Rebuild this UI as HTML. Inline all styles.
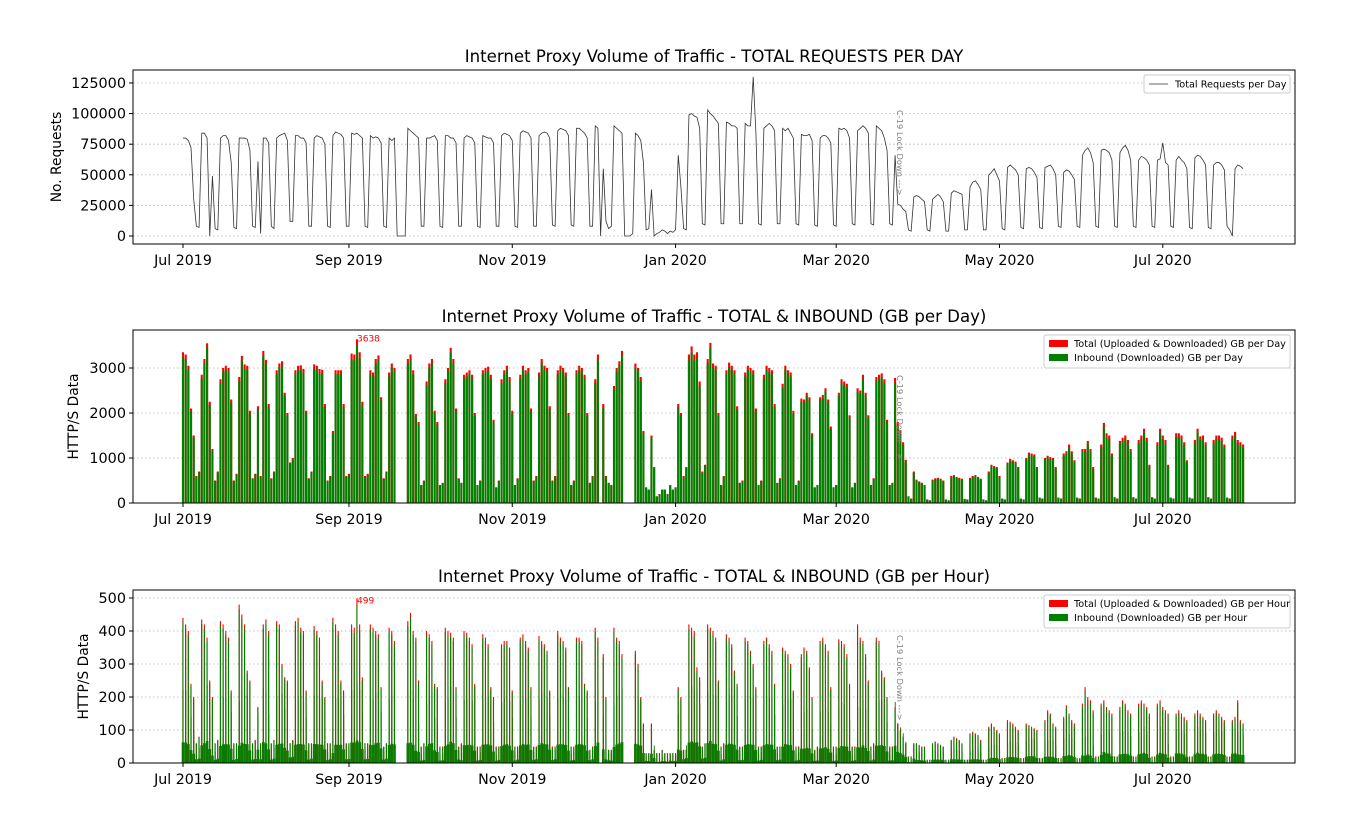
<!DOCTYPE html>
<html><head><meta charset="utf-8">
<style>
html,body{margin:0;padding:0;background:#fff;}
svg{display:block;font-family:"DejaVu Sans","Liberation Sans",sans-serif;}
</style></head>
<body>
<svg id="chart" width="1345" height="837" viewBox="0 0 1345 837" xmlns="http://www.w3.org/2000/svg"></svg>
<script>
// ---------- DATA (daily, starting Mon 1 Jul 2019) ----------
const xTickLabels = ["Jul 2019","Sep 2019","Nov 2019","Jan 2020","Mar 2020","May 2020","Jul 2020"];
const xTickDays = [0,62,123,184,244,305,366];
const reqTicks = [0,25000,50000,75000,100000,125000];
const gbTicks = [0,1000,2000,3000];
const hourTicks = [0,100,200,300,400,500];
// Total requests per day (thousands)
const requestsK = [
80,80,78,72,30,8,7,
84,84,80,0,49,6,5,
80,82,82,78,60,7,6,
80,80,80,79,70,8,7,
61,2,80,80,76,8,6,
80,82,83,84,78,12,12,
82,82,80,80,76,8,8,
80,82,81,80,75,8,7,
82,85,84,83,80,8,8,
84,83,84,82,80,8,7,
82,80,81,80,76,8,7,
80,78,80,0,0,0,0,
88,86,84,82,80,8,8,
80,80,81,82,78,8,7,
82,82,80,80,76,8,8,
80,82,81,80,76,8,7,
82,81,80,80,76,8,8,
82,84,83,82,78,8,7,
84,86,85,84,80,8,8,
82,84,85,84,80,9,8,
86,88,87,86,82,9,8,
88,88,86,84,80,8,8,
90,88,0,55,12,6,8,
90,88,86,84,0,0,0,
2,84,82,78,60,5,6,
38,0,2,3,5,4,2,
4,3,5,66,40,6,5,
99,100,98,97,88,10,9,
103,100,98,95,92,10,10,
93,92,90,90,88,10,10,
92,90,90,130,85,10,9,
88,90,92,90,86,10,10,
88,86,88,84,80,10,9,
83,82,82,83,78,9,8,
80,82,82,80,76,9,8,
88,87,88,86,80,10,9,
86,88,90,88,84,10,9,
90,88,86,80,70,10,9,
66,26,25,22,20,5,4,
32,33,32,30,28,5,4,
30,32,34,32,28,4,4,
35,37,36,35,34,5,5,
40,44,45,42,38,5,5,
50,52,55,50,45,6,5,
56,58,56,54,50,7,6,
55,56,55,52,48,7,6,
56,57,58,55,50,8,7,
52,54,53,50,46,8,7,
66,70,72,68,60,8,7,
70,71,70,68,62,8,7,
68,72,74,70,62,8,7,
62,65,64,62,58,8,7,
62,63,76,60,58,8,7,
62,65,62,60,55,7,6,
64,66,65,62,58,7,6,
58,60,60,58,54,8,5,
0,55,58,57,55];
// Total GB per day
const totalGB = [
3350,3300,3050,2100,1500,600,700,
2850,3200,3550,2250,1200,500,700,
2750,3000,3050,3000,2300,500,650,
2800,3270,3080,3050,2050,550,650,
2150,600,3380,3180,2200,550,700,
2950,3100,3150,2450,2000,900,1000,
2950,3050,3060,2980,2050,550,700,
3080,3050,2980,2960,2200,500,600,
1600,2950,2950,2950,2200,600,650,
3320,3300,3638,3350,2250,600,650,
2950,2900,3200,3280,2350,550,700,
2900,3100,3000,0,0,0,0,
3200,3300,2950,1980,1800,400,500,
2700,3100,3200,2050,1800,400,450,
2750,3000,3450,3200,2100,550,450,
2850,2900,2950,2850,2000,400,500,
2950,3000,3030,2850,1850,350,500,
2750,2950,3050,2800,2050,400,550,
2850,3050,2950,3000,2100,500,600,
2900,3200,3050,3000,2150,500,600,
2950,3050,3000,2900,2000,400,500,
2950,3050,3000,2850,2000,450,600,
2750,3300,0,2200,600,450,400,
2600,3000,3150,3380,0,0,0,
0,3100,3000,2800,1600,350,300,
1500,800,150,200,300,300,200,
400,300,350,2200,2000,600,800,
3300,3480,3300,3350,2700,700,850,
3200,3560,3100,3050,2000,400,600,
2950,3120,3050,2950,2150,450,500,
2900,3050,3000,2950,2100,400,500,
2850,3050,3000,2950,2200,450,550,
2650,3050,2950,2900,2050,400,500,
2320,2300,2450,2350,1550,350,400,
2350,2400,2550,2300,1700,350,400,
2450,2750,2700,2650,1950,350,450,
2550,2500,2850,2450,1950,400,550,
2800,2850,2880,2750,1850,400,450,
2780,1800,1620,1350,960,150,100,
700,520,480,450,400,80,60,
520,550,560,540,500,80,60,
600,620,580,560,540,90,80,
560,600,620,580,540,80,60,
700,850,820,800,600,100,80,
900,980,950,920,800,100,80,
1000,1120,1100,1080,800,120,100,
1000,1050,1020,1000,800,120,100,
1100,1150,1300,1150,950,120,100,
1200,1200,1380,1200,800,120,100,
1300,1780,1550,1500,1100,130,100,
1380,1450,1500,1400,1200,130,100,
1400,1500,1650,1450,850,130,100,
1350,1650,1500,1400,850,120,100,
1550,1550,1500,1350,950,120,100,
1400,1650,1480,1500,1350,130,100,
1400,1500,1500,1450,1300,120,100,
1500,1580,1400,1350,1300];
// Uploaded share of traffic, per week
const uploadShare = [0.03,0.03,0.03,0.03,0.03,0.03,0.03,0.03,0.03,0.04,0.03,0.03,0.03,0.03,0.03,0.03,0.03,0.03,0.03,0.03,
0.03,0.03,0.03,0.03,0.03,0.03,0.03,0.04,0.03,0.03,0.03,0.03,0.03,0.03,0.03,0.03,0.03,0.03,0.04,0.04,
0.04,0.04,0.04,0.04,0.04,0.04,0.04,0.05,0.05,0.05,0.05,0.05,0.05,0.05,0.05,0.05,0.05];
// Peak GB in a single hour, per day
const hourlyPeakGB = [
440,420,400,240,200,60,80,
435,420,380,250,200,60,70,
430,420,400,380,220,60,60,
480,450,420,280,250,60,70,
170,60,420,435,400,60,70,
430,420,300,260,250,60,70,
430,440,410,400,220,60,60,
415,400,380,250,200,60,60,
440,420,400,250,220,60,60,
420,410,499,420,260,60,60,
420,410,400,390,230,50,60,
410,400,370,0,0,0,0,
430,455,400,380,250,50,60,
400,390,370,240,230,50,50,
410,400,395,380,230,50,60,
400,395,380,360,240,50,50,
390,380,360,230,200,50,50,
360,370,370,350,220,50,50,
380,390,370,350,230,50,50,
385,370,360,340,220,50,50,
400,380,370,350,230,50,50,
380,380,370,240,220,40,50,
410,380,0,330,200,40,40,
410,380,370,330,0,0,0,
0,340,300,200,120,30,30,
120,40,30,30,40,30,30,
30,30,30,230,200,40,40,
420,410,400,290,260,50,60,
420,410,400,380,250,50,60,
390,380,360,280,240,50,50,
380,370,340,300,230,50,50,
370,380,360,340,240,50,50,
350,340,330,300,220,50,50,
330,350,340,290,200,40,50,
370,380,360,340,230,50,50,
375,370,360,330,240,50,50,
420,380,370,330,250,50,60,
380,370,280,260,200,50,50,
170,120,100,80,60,20,20,
60,60,55,50,50,10,10,
60,65,60,55,50,10,10,
70,80,75,70,60,10,10,
90,95,90,85,70,10,10,
110,120,110,100,90,15,15,
130,125,120,110,100,15,15,
120,115,110,105,100,15,15,
130,160,150,120,110,15,15,
140,175,150,130,120,15,15,
180,230,200,190,160,20,20,
180,190,170,160,150,20,20,
170,190,180,160,150,20,20,
180,190,180,170,150,20,20,
180,190,170,160,150,20,20,
150,160,150,140,130,20,20,
150,160,150,140,130,20,20,
150,160,150,140,130,20,20,
130,140,190,130,120];
const lockdownDay = 266;

// ---------- LAYOUT ----------
const svg = document.getElementById('chart');
const NS = 'http://www.w3.org/2000/svg';
const PL = 133, PR = 1295;
const X0 = 183, PX_PER_DAY = 2.677;
function xScale(d){ return X0 + d*PX_PER_DAY; }
function mk(tag, attrs, parent){
  const e = document.createElementNS(NS, tag);
  for (const k in attrs) e.setAttribute(k, attrs[k]);
  (parent||svg).appendChild(e);
  return e;
}
function txt(s, attrs, parent){ const t = mk('text', attrs, parent); t.textContent = s; return t; }

function panel(cfg){
  const g = mk('g', {});
  
  
  const yS = v => cfg.y0 - (v - 0) * cfg.pxPerUnit;
  cfg.ticks.forEach(t => {
    const gl = mk('line', {x1:PL, x2:PR, y1:yS(t), y2:yS(t), stroke:'#b0b0b0', 'stroke-width':0.8, 'stroke-dasharray':'1.5,2.5'}, g);
    
    
  });
  cfg.draw(g, yS);
  const fr = mk('rect', {x:PL, y:cfg.top, width:PR-PL, height:cfg.bottom-cfg.top, fill:'none', stroke:'#000', 'stroke-width':1}, g);
  
  
  cfg.ticks.forEach(t => {
    mk('line', {x1:PL-4, x2:PL, y1:yS(t), y2:yS(t), stroke:'#000'}, g);
    const l = txt(String(t), {x:PL-7, y:yS(t)+5, 'text-anchor':'end', 'font-size':14.4, fill:'#000'}, g);
    
    
  });
  xTickDays.forEach((d,i) => {
    mk('line', {x1:xScale(d), x2:xScale(d), y1:cfg.bottom, y2:cfg.bottom+4, stroke:'#000'}, g);
    const l = txt(xTickLabels[i], {x:xScale(d), y:cfg.bottom+21, 'text-anchor':'middle', 'font-size':14.2, fill:'#000'}, g);
    
    
  });
  const tt = txt(cfg.title, {x:(PL+PR)/2, y:cfg.top-8, 'text-anchor':'middle', 'font-size':16.6, fill:'#000'}, g);
  
  
  const cy = (cfg.top+cfg.bottom)/2;
  const yt = txt(cfg.ylabel, {x:cfg.ylx, y:cy, 'text-anchor':'middle', 'font-size':13.8, fill:'#000', transform:`rotate(-90 ${cfg.ylx} ${cy})`}, g);
  
  
  const lx = xScale(lockdownDay) + 2, ly = cfg.lockY;
  const la = txt('C-19 Lock Down --->', {x:lx, y:ly, 'font-size':8.3, fill:'#808080', transform:`rotate(90 ${lx} ${ly})`}, g);
  
  
  return g;
}

// ----- Panel 1: requests line -----
panel({name:'requests-chart', top:70, bottom:244, y0:236, pxPerUnit:153/125000, ticks:reqTicks,
  title:'Internet Proxy Volume of Traffic - TOTAL REQUESTS PER DAY', ylabel:'No. Requests', ylx:61, lockY:110,
  draw:(g,yS)=>{
    const pts = requestsK.map((v,i)=> xScale(i).toFixed(2)+','+yS(v*1000).toFixed(2)).join(' ');
    const pl = mk('polyline', {points:pts, fill:'none', stroke:'#333', 'stroke-width':0.8}, g);
    
    
    const lg = mk('g', {}, g);
    
    
    mk('rect', {x:1144, y:75, width:146, height:18, fill:'#fff', stroke:'#ccc', rx:2}, lg);
    mk('line', {x1:1149, x2:1168, y1:84, y2:84, stroke:'#333', 'stroke-width':0.8}, lg);
    txt('Total Requests per Day', {x:1175, y:87.5, 'font-size':9.7, fill:'#000'}, lg);
  }});

function legend2(g, y, a, b){
  const lg = mk('g', {}, g);
  
  
  const w = 246, x = 1290 - w;
  mk('rect', {x:x, y:y, width:w, height:33, fill:'#fff', stroke:'#ccc', rx:2}, lg);
  mk('rect', {x:x+5, y:y+5, width:19, height:7, fill:'#ff0000'}, lg);
  txt(a, {x:x+30, y:y+12, 'font-size':9.7, fill:'#000'}, lg);
  mk('rect', {x:x+5, y:y+19, width:19, height:7, fill:'#008000'}, lg);
  txt(b, {x:x+30, y:y+26, 'font-size':9.7, fill:'#000'}, lg);
}

// ----- Panel 2: GB per day bars -----
panel({name:'gb-per-day-chart', top:330, bottom:503, y0:503, pxPerUnit:45/1000, ticks:gbTicks,
  title:'Internet Proxy Volume of Traffic - TOTAL & INBOUND (GB per Day)', ylabel:'HTTP/S Data', ylx:78, lockY:375,
  draw:(g,yS)=>{
    let maxI = 0;
    totalGB.forEach((v,i)=>{
      if (v > totalGB[maxI]) maxI = i;
      if (v <= 0) return;
      const inb = v*(1-uploadShare[Math.floor(i/7)]);
      const x = xScale(i) - 1.05;
      const r = mk('rect', {x:x, y:yS(v), width:2.1, height:yS(0)-yS(v), fill:'#ff0000'}, g);
      
      
      const gr = mk('rect', {x:x, y:yS(inb), width:2.1, height:yS(0)-yS(inb), fill:'#008000'}, g);
      
      
    });
    const an = txt(String(totalGB[maxI]), {x:xScale(maxI), y:yS(totalGB[maxI])+2, 'font-size':9, fill:'#ff0000'}, g);
    
    
    legend2(g, 335, 'Total (Uploaded & Downloaded) GB per Day', 'Inbound (Downloaded) GB per Day');
  }});

// ----- Panel 3: GB per hour bars -----
panel({name:'gb-per-hour-chart', top:590, bottom:763, y0:763, pxPerUnit:165/500, ticks:hourTicks,
  title:'Internet Proxy Volume of Traffic - TOTAL & INBOUND (GB per Hour)', ylabel:'HTTP/S Data', ylx:88, lockY:635,
  draw:(g,yS)=>{
    let maxI = 0;
    hourlyPeakGB.forEach((p,i)=>{
      if (p > hourlyPeakGB[maxI]) maxI = i;
      const sh = 1-uploadShare[Math.floor(i/7)];
      const avg = totalGB[i]/24;
      const x = xScale(i);
      if (totalGB[i] > 0){
        const b = mk('rect', {x:x-1.35, y:yS(avg*0.45), width:2.7, height:yS(0)-yS(avg*0.45), fill:'#008000'}, g);
        
        
        const m = mk('rect', {x:x-0.3, y:yS(avg*1.6), width:0.9, height:yS(0)-yS(avg*1.6), fill:'#008000'}, g);
        
        
      }
      if (p <= 0) return;
      const r = mk('rect', {x:x-0.6, y:yS(p), width:1.1, height:yS(0)-yS(p), fill:'#ff0000'}, g);
      
      
      const gr = mk('rect', {x:x-0.6, y:yS(p*sh), width:1.1, height:yS(0)-yS(p*sh), fill:'#008000'}, g);
      
      
    });
    const an = txt(String(hourlyPeakGB[maxI]), {x:xScale(maxI), y:yS(hourlyPeakGB[maxI])+5, 'font-size':9, fill:'#ff0000'}, g);
    
    
    legend2(g, 595, 'Total (Uploaded & Downloaded) GB per Hour', 'Inbound (Downloaded) GB per Hour');
  }});
</script>
</body></html>
